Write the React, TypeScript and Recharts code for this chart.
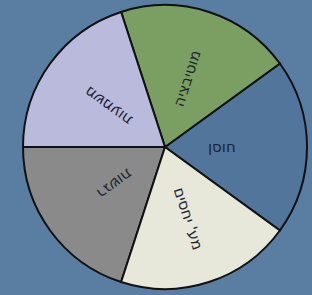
import { PieChart, Pie, Cell } from 'recharts';

const categories = ['חוסן', 'מוטיבציה', 'משמעות', 'רגשות', "מע' יחסים"];
const shares = [20, 20, 20, 20, 20];
const sliceColors = ['#52759b', '#7b9f63', '#b9badc', '#8a8a8b', '#e7e8da'];

const data = categories.map((name, i) => ({ name, value: shares[i] }));

const RADIAN = Math.PI / 180;

// labels start near the hub and run outward along the slice's middle
const renderLabel = ({ cx, cy, midAngle, name }: any) => {
  const r = 43;
  const x = cx + r * Math.cos(-midAngle * RADIAN);
  const y = cy + r * Math.sin(-midAngle * RADIAN);
  return (
    <text
      x={x}
      y={y}
      fill="#1d2533"
      fontSize={15}
      fontFamily="DejaVu Sans"
      textAnchor="start"
      dominantBaseline="central"
      transform={`rotate(${-midAngle}, ${x}, ${y})`}
    >
      {name}
    </text>
  );
};

export default function App() {
  return (
    <div style={{ position: 'fixed', left: 0, top: 0, width: 312, height: 295, background: '#5a7ea2' }}>
      <PieChart width={312} height={295} margin={{ top: 0, right: 0, bottom: 0, left: 0 }}>
        <Pie
          data={data}
          dataKey="value"
          nameKey="name"
          cx={165}
          cy={147}
          outerRadius={142}
          startAngle={-36}
          endAngle={324}
          stroke="#111"
          strokeWidth={2}
          label={renderLabel}
          labelLine={false}
          isAnimationActive={false}
        >
          {data.map((d, i) => (
            <Cell key={d.name} fill={sliceColors[i]} />
          ))}
        </Pie>
      </PieChart>
    </div>
  );
}
